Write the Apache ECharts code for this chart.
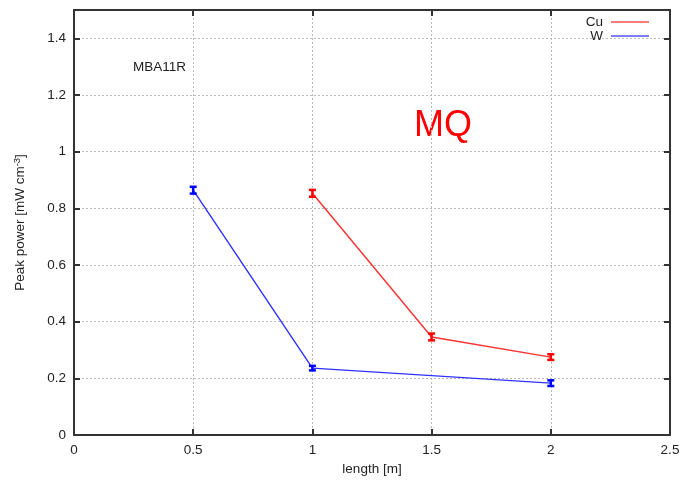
<!DOCTYPE html>
<html><head><meta charset="utf-8">
<script src="https://cdn.jsdelivr.net/npm/echarts@6/dist/echarts.min.js"></script>
<style>html,body{margin:0;padding:0;background:#fff}#c{width:682px;height:480px}</style>
</head><body><div id="c"></div>
<script>
const cuLength = [1, 1.5, 2];
const cuPower = [0.853, 0.346, 0.275];
const cuErr = [0.012, 0.012, 0.010];
const wLength = [0.5, 1, 2];
const wPower = [0.864, 0.236, 0.183];
const wErr = [0.012, 0.008, 0.010];

const chart = echarts.init(document.getElementById('c'));
const font = 'Liberation Sans, Arial, sans-serif';
function errSeries(name, xs, ys, es, color) {
  return {
    type: 'custom', name: name + ' err', silent: true,
    data: xs.map((x, i) => [x, ys[i] - es[i], ys[i] + es[i]]),
    renderItem: function (params, api) {
      const lo = api.coord([api.value(0), api.value(1)]);
      const hi = api.coord([api.value(0), api.value(2)]);
      const w = 3.5;
      const st = { stroke: color, lineWidth: 2.5 };
      return { type: 'group', children: [
        { type: 'line', shape: { x1: lo[0], y1: lo[1], x2: hi[0], y2: hi[1] }, style: st },
        { type: 'line', shape: { x1: lo[0] - w, y1: lo[1], x2: lo[0] + w, y2: lo[1] }, style: st },
        { type: 'line', shape: { x1: hi[0] - w, y1: hi[1], x2: hi[0] + w, y2: hi[1] }, style: st }
      ]};
    },
    z: 5
  };
}
const axisLine = { show: true, onZero: false, lineStyle: { color: '#333', width: 2 } };
const axisTick = { show: true, inside: true, length: 6, lineStyle: { color: '#333', width: 2 } };
const splitLine = { show: true, lineStyle: { color: '#b8b8b8', type: [2, 2], width: 1 } };
const option = {
  animation: false,
  backgroundColor: '#fff',
  color: ['#ff3030', '#3030ff'],
  grid: { left: 74, right: 12, top: 10, bottom: 45, containLabel: false, outerBoundsMode: 'none' },
  legend: {
    orient: 'vertical', right: 28, top: 10, itemGap: 0, align: 'right',
    itemWidth: 38, itemHeight: 1.5,
    textStyle: { fontFamily: font, fontSize: 13.5, color: '#222', padding: [0, 3, 0, 0] },
    data: [
      { name: 'Cu', icon: 'rect', itemStyle: { color: '#ff5050', borderWidth: 0 } },
      { name: 'W', icon: 'rect', itemStyle: { color: '#5050ff', borderWidth: 0 } }
    ]
  },
  xAxis: [{
    type: 'value', min: 0, max: 2.5, interval: 0.5, position: 'bottom',
    name: 'length [m]', nameLocation: 'middle', nameGap: 26,
    nameTextStyle: { fontFamily: font, fontSize: 13.5, color: '#222' },
    axisLine: axisLine, axisTick: axisTick,
    axisLabel: { fontFamily: font, fontSize: 13.5, color: '#222', margin: 8 },
    splitLine: splitLine
  }, {
    type: 'value', position: 'top', min: 0, max: 2.5, interval: 0.5,
    axisLine: axisLine, axisTick: axisTick,
    axisLabel: { show: false }, splitLine: { show: false }
  }],
  yAxis: [{
    type: 'value', min: 0, max: 1.5, interval: 0.2, position: 'left',
    name: 'Peak power [mW cm{sup|-3}]', nameLocation: 'middle', nameGap: 46, nameRotate: 90,
    nameTextStyle: { fontFamily: font, fontSize: 13.5, color: '#222',
      rich: { sup: { fontFamily: font, fontSize: 9.5, verticalAlign: 'top', padding: [0, 0, 6, 0], color: '#222' } } },
    axisLine: axisLine, axisTick: axisTick,
    axisLabel: { fontFamily: font, fontSize: 13.5, color: '#222', margin: 8, showMaxLabel: false,
      formatter: v => (v > 1.45 ? '' : String(Math.round(v * 10) / 10)) },
    splitLine: splitLine
  }, {
    type: 'value', position: 'right', min: 0, max: 1.5, interval: 0.2,
    axisLine: axisLine, axisTick: axisTick,
    axisLabel: { show: false }, splitLine: { show: false }
  }],
  graphic: [
    { type: 'text', left: 133, top: 60, style: { text: 'MBA11R', fontFamily: font, fontSize: 13.5, fill: '#222' } },
    { type: 'text', left: 414, top: 108, style: { text: 'MQ', fontFamily: font, fontSize: 36, fill: '#ff0000' } }
  ],
  series: [
    { name: 'Cu', type: 'line', data: cuLength.map((x, i) => [x, cuPower[i]]),
      symbol: 'none', lineStyle: { color: '#ff3030', width: 1.4 }, itemStyle: { color: '#ff3030' } },
    { name: 'W', type: 'line', data: wLength.map((x, i) => [x, wPower[i]]),
      symbol: 'none', lineStyle: { color: '#3030ff', width: 1.4 }, itemStyle: { color: '#3030ff' } },
    errSeries('Cu', cuLength, cuPower, cuErr, '#ff0000'),
    errSeries('W', wLength, wPower, wErr, '#0000ff')
  ]
};
chart.setOption(option);
</script></body></html>
